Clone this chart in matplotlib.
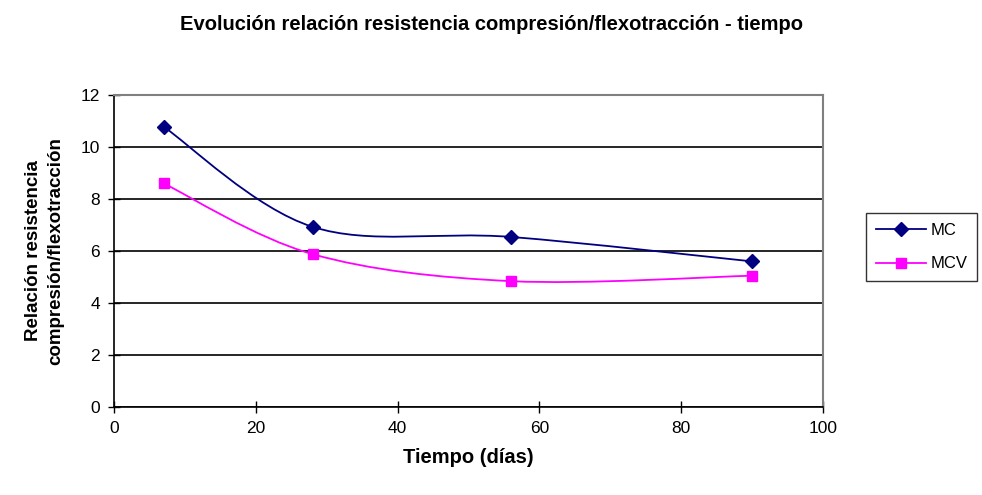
import matplotlib.pyplot as plt
from matplotlib.path import Path
from matplotlib.patches import PathPatch
from matplotlib.lines import Line2D
import numpy as np

plt.rcParams['font.family'] = ['Liberation Sans', 'DejaVu Sans']

dias = [7, 28, 56, 90]
mc = [10.78, 6.93, 6.54, 5.6]
mcv = [8.6, 5.88, 4.84, 5.05]


def smooth_path(xs, ys, xspan, yspan):
    # Excel-style smoothed line: cubic bezier with catmull-rom tangents
    xs = np.asarray(xs, float) / xspan
    ys = np.asarray(ys, float) / yspan
    pts = np.column_stack([xs, ys])
    verts = [pts[0]]
    codes = [Path.MOVETO]
    n = len(pts)
    for i in range(n - 1):
        p0 = pts[i - 1] if i > 0 else pts[i]
        p1 = pts[i]
        p2 = pts[i + 1]
        p3 = pts[i + 2] if i + 2 < n else pts[i + 1]
        c1 = p1 + (p2 - p0) / 6.0
        c2 = p2 - (p3 - p1) / 6.0
        verts += [c1, c2, p2]
        codes += [Path.CURVE4] * 3
    verts = np.array(verts) * [xspan, yspan]
    return Path(verts, codes)


fig = plt.figure(figsize=(9.82, 4.95), dpi=100)
ax = fig.add_axes([0.1161, 0.1778, 0.7219, 0.6303])

ax.set_xlim(0, 100)
ax.set_ylim(0, 12)
ax.set_xticks(range(0, 101, 20))
ax.set_yticks(range(0, 13, 2))
ax.yaxis.grid(True, color='black', linewidth=1.2)
ax.set_axisbelow(True)

series = [(mc, '#000080', 'D', 'MC'), (mcv, '#FF00FF', 's', 'MCV')]
for ys, col, mk, name in series:
    p = smooth_path(dias, ys, 100.0, 12.0 * 0.45)
    ax.add_patch(PathPatch(p, fc='none', ec=col, lw=1.3, zorder=3))
    ax.plot(dias, ys, linestyle='none', color=col, marker=mk, markersize=7, zorder=4)

handles = [Line2D([], [], color=col, lw=1.3, marker=mk, markersize=7) for _, col, mk, _ in series]
leg = fig.legend(handles, [s[3] for s in series], loc='upper left',
                 bbox_to_anchor=(866 / 982, 1 - 213 / 495),
                 frameon=True, fancybox=False, edgecolor='black', fontsize=12,
                 handlelength=3.0, borderpad=0.6, labelspacing=1.1, handletextpad=0.25,
                 borderaxespad=0)
leg.get_frame().set_linewidth(1.0)

ax.spines['top'].set_color('#808080')
ax.spines['right'].set_color('#808080')
ax.spines['top'].set_linewidth(1.5)
ax.spines['right'].set_linewidth(1.5)
ax.spines['left'].set_linewidth(1.2)
ax.spines['bottom'].set_linewidth(1.2)
ax.tick_params(direction='inout', length=8, width=1, labelsize=12.5, pad=6)

ax.set_xlabel('Tiempo (días)', fontsize=14.5, fontweight='bold', labelpad=9)
ax.set_ylabel('Relación resistencia\ncompresión/flexotracción', fontsize=13.5,
              fontweight='bold', labelpad=12, linespacing=1.4)
fig.text(0.5, 1 - 25 / 495, 'Evolución relación resistencia compresión/flexotracción - tiempo',
         ha='center', va='center', fontsize=14.5, fontweight='bold')

fig.savefig('out.png', dpi=100)
